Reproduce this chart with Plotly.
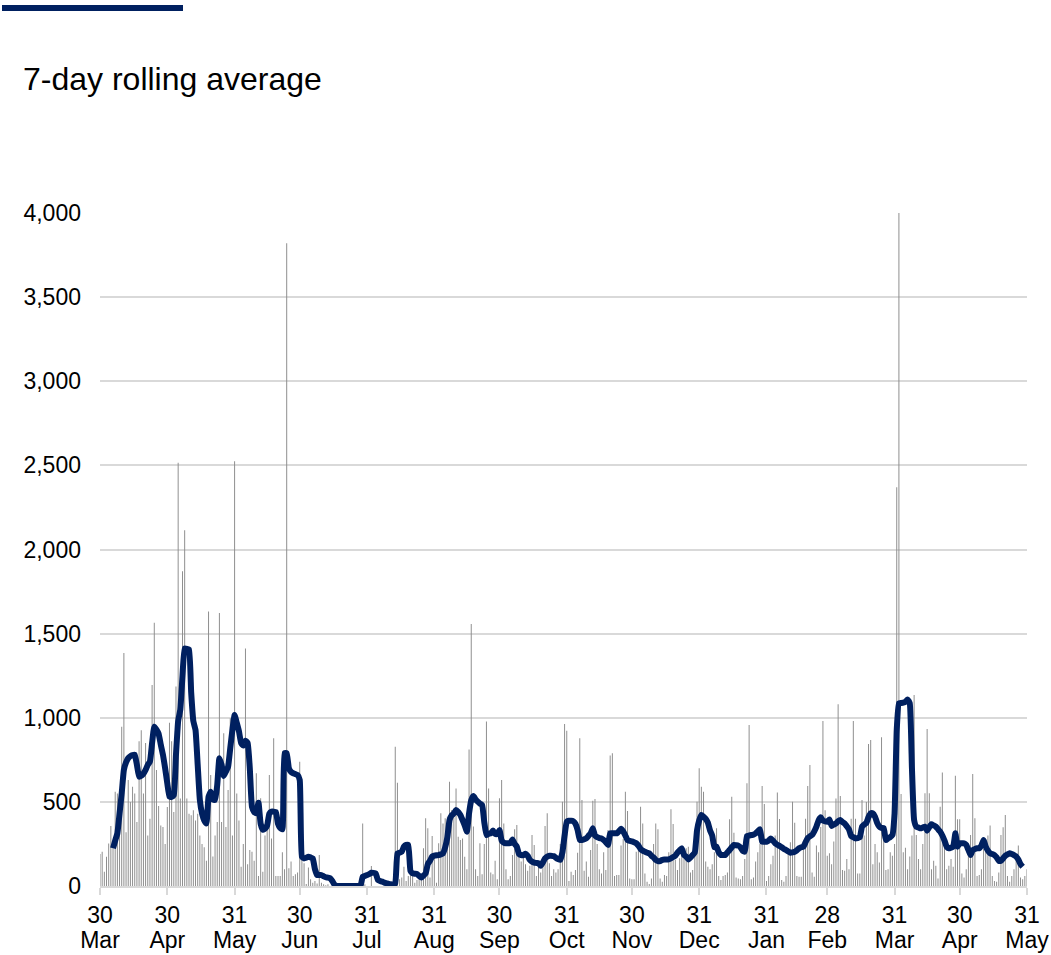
import datetime as dt
import plotly.graph_objects as go

# ---------------- data ----------------
start_date = "2020-03-30"
n_days = 428

daily_values = [
    190, 204, 85, 174, 253, 356, 250, 560, 550, 430,
    947, 1385, 320, 630, 500, 590, 550, 380, 860, 925,
    550, 850, 300, 400, 1195, 1565, 690, 475, 360, 350,
    250, 470, 970, 860, 440, 1185, 2516, 520, 1871, 2115,
    520, 430, 420, 450, 390, 430, 300, 250, 230, 150,
    1632, 660, 175, 300, 380, 1623, 380, 908, 350, 570,
    997, 300, 2524, 550, 390, 115, 250, 1411, 130, 214,
    204, 150, 670, 60, 521, 85, 300, 360, 660, 283,
    878, 60, 60, 60, 200, 100, 3820, 105, 145, 60,
    70, 80, 739, 260, 135, 12, 110, 40, 20, 30,
    15, 184, 20, 10, 5, 10, 0, 0, 0, 0,
    0, 0, 0, 0, 0, 0, 0, 0, 0, 0,
    0, 372, 10, 0, 0, 119, 0, 0, 0, 0,
    0, 0, 0, 0, 0, 0, 828, 614, 40, 50,
    115, 30, 60, 120, 80, 20, 35, 60, 40, 224,
    402, 343, 50, 297, 180, 20, 254, 432, 372, 402,
    412, 620, 452, 432, 580, 293, 273, 283, 174, 100,
    812, 1557, 353, 100, 60, 254, 70, 250, 977, 580,
    80, 70, 150, 40, 521, 630, 372, 100, 40, 60,
    184, 337, 362, 200, 145, 180, 129, 90, 120, 303,
    244, 60, 115, 80, 150, 356, 432, 135, 60, 100,
    80, 100, 250, 501, 963, 923, 30, 85, 65, 95,
    198, 878, 511, 90, 145, 55, 214, 507, 517, 250,
    100, 75, 200, 95, 333, 775, 789, 60, 65, 65,
    240, 280, 560, 446, 45, 40, 40, 204, 254, 471,
    372, 75, 25, 12, 45, 250, 372, 337, 45, 25,
    65, 60, 200, 456, 368, 155, 95, 165, 225, 165,
    225, 234, 80, 95, 250, 501, 700, 590, 560, 145,
    115, 100, 130, 200, 343, 60, 35, 60, 65, 80,
    396, 531, 317, 50, 45, 40, 60, 160, 610, 957,
    40, 50, 145, 200, 250, 594, 487, 30, 60, 130,
    180, 300, 555, 398, 35, 25, 60, 200, 260, 501,
    376, 60, 55, 55, 250, 400, 594, 719, 80, 55,
    240, 200, 350, 980, 450, 180, 195, 130, 265, 520,
    1080, 535, 95, 90, 160, 100, 400, 980, 400, 75,
    75, 511, 300, 500, 844, 868, 130, 250, 200, 140,
    884, 300, 95, 100, 200, 180, 250, 2370, 4000, 547,
    200, 228, 100, 175, 300, 1135, 303, 160, 100, 250,
    551, 933, 551, 100, 150, 120, 45, 471, 674, 300,
    100, 120, 160, 115, 656, 396, 396, 75, 50, 100,
    200, 303, 666, 402, 60, 65, 100, 220, 280, 300,
    360, 60, 30, 25, 80, 303, 349, 422, 60, 25,
    60, 100, 180, 240, 50, 40, 60, 100,
]

rolling_avg = [
    None, None, None, None, None, None, 224, 270, 313, 430,
    551, 690, 735, 760, 772, 778, 780, 720, 650, 655,
    668, 690, 720, 740, 850, 947, 930, 905, 840, 780,
    700, 610, 531, 530, 540, 780, 980, 1050, 1250, 1412,
    1410, 1405, 1150, 980, 927, 720, 511, 430, 390, 372,
    530, 560, 515, 511, 600, 760, 720, 654, 680, 709,
    820, 930, 1016, 970, 920, 850, 835, 864, 850, 700,
    470, 440, 432, 495, 370, 335, 340, 360, 430, 442,
    442, 440, 370, 345, 337, 789, 789, 700, 678, 670,
    665, 660, 630, 174, 164, 168, 174, 170, 164, 100,
    65, 65, 65, 58, 52, 50, 46, 30, 8, 0,
    0, 0, 0, 0, 0, 0, 0, 0, 0, 0,
    0, 55, 60, 65, 70, 79, 78, 75, 36, 30,
    26, 20, 16, 12, 10, 10, 16, 194, 198, 204,
    234, 244, 244, 90, 75, 73, 71, 60, 50, 62,
    75, 130, 150, 175, 180, 183, 184, 188, 194, 230,
    290, 392, 420, 432, 452, 440, 422, 392, 360, 323,
    432, 510, 535, 515, 501, 490, 481, 380, 303, 310,
    313, 330, 310, 310, 333, 270, 258, 254, 254, 254,
    277, 250, 234, 190, 184, 184, 192, 180, 155, 145,
    139, 137, 135, 120, 140, 164, 175, 180, 179, 178,
    168, 160, 155, 200, 300, 382, 388, 388, 385, 370,
    333, 275, 273, 278, 283, 298, 313, 343, 300, 290,
    285, 283, 273, 260, 244, 313, 313, 313, 313, 325,
    340, 325, 300, 273, 268, 265, 260, 254, 240, 220,
    210, 204, 198, 194, 180, 170, 155, 148, 148, 155,
    158, 158, 158, 164, 172, 180, 198, 212, 224, 184,
    175, 158, 170, 184, 200, 330, 390, 422, 412, 400,
    376, 330, 300, 230, 234, 200, 184, 184, 184, 200,
    214, 230, 244, 242, 240, 230, 210, 204, 297, 300,
    303, 305, 313, 325, 337, 263, 263, 263, 270, 283,
    270, 254, 245, 238, 230, 220, 214, 205, 198, 200,
    204, 212, 224, 230, 234, 260, 285, 295, 303, 325,
    353, 390, 408, 388, 384, 382, 396, 357, 365, 372,
    385, 392, 380, 372, 355, 337, 297, 290, 283, 285,
    289, 353, 365, 375, 410, 432, 432, 412, 375, 353,
    345, 343, 273, 283, 290, 303, 432, 927, 1086, 1088,
    1090, 1095, 1109, 1086, 700, 392, 353, 348, 343, 348,
    353, 329, 350, 367, 360, 353, 338, 323, 300, 270,
    234, 224, 228, 234, 313, 234, 254, 254, 254, 244,
    215, 184, 214, 220, 224, 224, 240, 273, 234, 210,
    194, 190, 184, 170, 150, 150, 164, 180, 188, 194,
    190, 184, 175, 158, 130, 115, None, None,
]

tick_dates = ["2020-03-30", "2020-04-30", "2020-05-31", "2020-06-30",
              "2020-07-31", "2020-08-31", "2020-09-30", "2020-10-31",
              "2020-11-30", "2020-12-31", "2021-01-31", "2021-02-28",
              "2021-03-31", "2021-04-30", "2021-05-31"]
tick_days = ["30", "30", "31", "30", "31", "31", "30", "31",
             "30", "31", "31", "28", "31", "30", "31"]
tick_months = ["Mar", "Apr", "May", "Jun", "Jul", "Aug", "Sep", "Oct",
               "Nov", "Dec", "Jan", "Feb", "Mar", "Apr", "May"]
y_ticks = [0, 500, 1000, 1500, 2000, 2500, 3000, 3500, 4000]

title_text = "7-day rolling average"

# ---------------- figure ----------------
d0 = dt.date.fromisoformat(start_date)
dates = [(d0 + dt.timedelta(days=i)).isoformat() for i in range(n_days)]

W, H = 1051, 955
P_LEFT, P_RIGHT, P_TOP, P_BOTTOM = 100, 1027, 213, 886
L, R, T, B = P_LEFT, W - P_RIGHT, P_TOP, H - P_BOTTOM
pw, ph = P_RIGHT - P_LEFT, P_BOTTOM - P_TOP


def px_x(x):
    return (x - P_LEFT) / pw


def px_y(y):
    return (P_BOTTOM - y) / ph


FONT = "Liberation Sans, Arial, sans-serif"
NAVY = "#002060"
GRID = "#d9d9d9"
TICKFONT = dict(family=FONT, size=23, color="#000000")

fig = go.Figure()
fig.add_trace(go.Bar(
    x=dates, y=daily_values,
    marker=dict(color="#8c8c8c", line=dict(width=0)),
    hoverinfo="skip", showlegend=False,
))
fig.add_trace(go.Scatter(
    x=dates, y=rolling_avg, mode="lines",
    line=dict(color=NAVY, width=6, shape="spline", smoothing=0.4),
    connectgaps=False, showlegend=False,
))

fig.update_layout(
    template="none",
    width=W, height=H,
    margin=dict(l=L, r=R, t=T, b=B, pad=0),
    paper_bgcolor="white", plot_bgcolor="white",
    bargap=0.55,
    font=dict(family=FONT, size=23, color="#000000"),
    showlegend=False,
    shapes=[dict(
        type="rect", xref="paper", yref="paper",
        x0=px_x(2), x1=px_x(183), y0=px_y(11), y1=px_y(5),
        fillcolor=NAVY, line=dict(width=0),
    )],
    annotations=[dict(
        text=title_text, xref="paper", yref="paper",
        x=px_x(21), y=px_y(79), xanchor="left", yanchor="middle",
        showarrow=False, font=dict(family=FONT, size=32, color="#000000"),
    )],
    xaxis=dict(
        type="date", automargin=False,
        range=[tick_dates[0], tick_dates[-1]],
        tickmode="array", tickvals=tick_dates, ticktext=tick_days,
        ticks="outside", ticklen=7, tickwidth=2, tickcolor=GRID,
        showline=True, linecolor=GRID, linewidth=2,
        showgrid=False, zeroline=False,
        ticklabeloverflow="allow", tickfont=TICKFONT,
    ),
    # second label row (month names) sharing the same date scale
    xaxis2=dict(
        type="date", automargin=False, overlaying="x", matches="x",
        anchor="y", side="bottom",
        range=[tick_dates[0], tick_dates[-1]],
        tickmode="array", tickvals=tick_dates, ticktext=tick_months,
        ticks="outside", ticklen=7, tickcolor="rgba(0,0,0,0)",
        ticklabelstandoff=26,
        showline=False, showgrid=False, zeroline=False,
        ticklabeloverflow="allow", tickfont=TICKFONT,
    ),
    yaxis=dict(
        automargin=False,
        range=[0, 4000], tickmode="array", tickvals=y_ticks,
        tickformat=",", showgrid=True, gridcolor=GRID, gridwidth=2,
        zeroline=False, showline=False, ticks="",
        ticklabelstandoff=18, tickfont=TICKFONT,
    ),
)

# invisible helper trace so the month-label axis is rendered
fig.add_trace(go.Scatter(
    x=[tick_dates[0], tick_dates[-1]], y=[None, None], xaxis="x2",
    mode="lines", hoverinfo="skip", showlegend=False,
))

fig.write_html(
    "out.html",
    config={"displayModeBar": False, "staticPlot": True},
    post_script="document.body.style.margin='0';",
)
